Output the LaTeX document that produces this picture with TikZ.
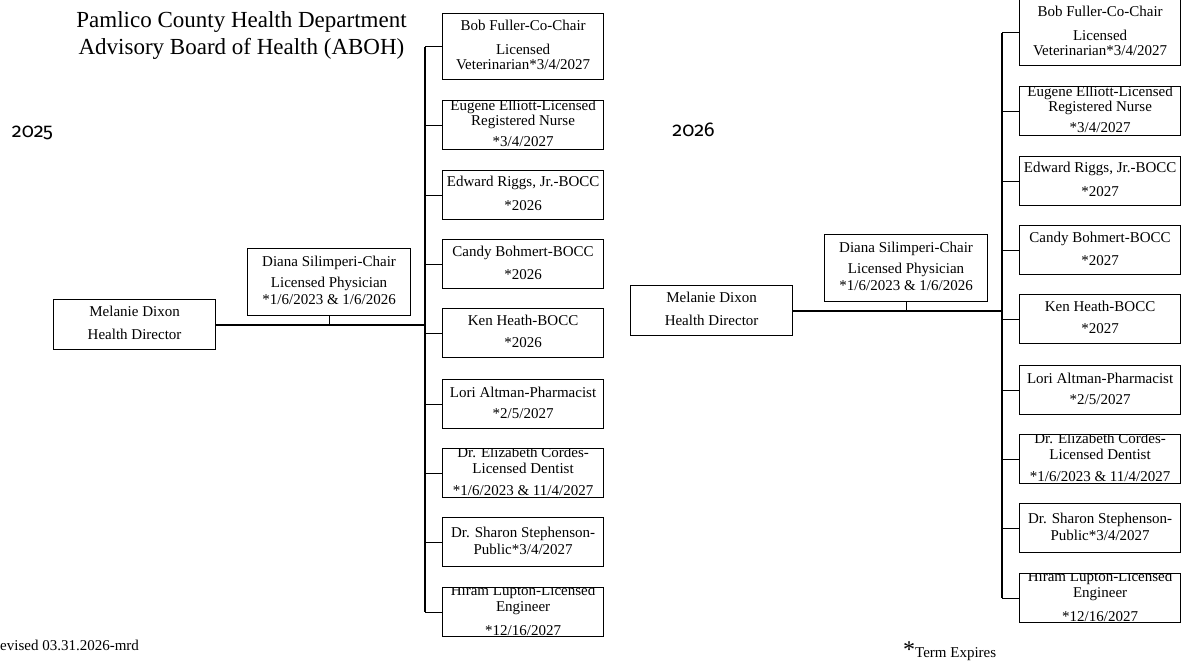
\documentclass[tikz,border=0pt]{standalone}
\usepackage{fontspec}
\setmainfont{Liberation Serif}
\newfontfamily\yearfont[Numbers=OldStyle]{Fira Sans}
\tikzset{
  bx/.style={draw, line width=1.2pt, minimum width=161pt, inner sep=0pt, anchor=north west},
  tx/.style={font=\fontsize{15}{16}\selectfont, align=center, inner sep=0pt,
    execute at begin node=\rule{0pt}{12pt}, execute at end node=\rule[-3pt]{0pt}{3pt}},
  branch/.style={line width=1pt},
  trunk/.style={line width=1.5pt},
  mainline/.style={line width=2pt},
  plain/.style={inner sep=0pt, font=\fontsize{15}{16}\selectfont}
}
% #1 name, #2 x, #3 y, #4 options, #5 text
\newcommand\memberbox[5]{%
  \node[bx, #4] (#1) at (#2,#3) {};
  \begin{scope}
    \clip (#1.south west) rectangle (#1.north east);
    \node[tx] (#1t) at (#1.center) {#5};
  \end{scope}
}
% #1 prefix, #2 BOCC year
\newcommand\boardchart[2]{%
  \memberbox{#1mel}{53}{299}{minimum height=50pt, minimum width=162pt}{Melanie Dixon\\[7pt]Health Director}
  \memberbox{#1dia}{247}{248}{minimum height=67pt, minimum width=163pt}{Diana Silimperi-Chair\\[5pt]Licensed Physician\\[1pt]*1/6/2023 \& 1/6/2026}
  \memberbox{#1bob}{442}{13}{minimum height=66pt}{Bob Fuller-Co-Chair\\[8pt]Licensed\\[-1pt]Veterinarian*3/4/2027}
  \memberbox{#1eug}{442}{100}{minimum height=49pt}{\raisebox{0pt}{}Eugene Elliott-Licensed\\[-1pt]Registered Nurse\\[5pt]*3/4/2027\rule[-4pt]{0pt}{4pt}}
  \memberbox{#1edw}{442}{170}{minimum height=49pt}{Edward Riggs, Jr.-BOCC\\[8pt]*#2}
  \memberbox{#1can}{442}{239}{minimum height=49pt}{Candy Bohmert-BOCC\\[7pt]*#2}
  \memberbox{#1ken}{442}{308}{minimum height=49pt}{Ken Heath-BOCC\\[6pt]*#2}
  \memberbox{#1lor}{442}{379}{minimum height=49pt}{Lori Altman-Pharmacist\\[5pt]*2/5/2027}
  \memberbox{#1eli}{442}{448}{minimum height=49pt}{Dr. Elizabeth Cordes-\\Licensed Dentist\\[6pt]*1/6/2023 \& 11/4/2027\rule[-4pt]{0pt}{4pt}}
  \memberbox{#1sha}{442}{517}{minimum height=49pt}{Dr. Sharon Stephenson-\\[1pt]Public*3/4/2027}
  \memberbox{#1hir}{442}{587}{minimum height=49pt}{Hiram Lupton-Licensed\\Engineer\\[8pt]*12/16/2027\rule[-4pt]{0pt}{4pt}}
  \coordinate (#1tr) at (425,0);
  \draw[trunk] (#1bob.west -| #1tr) -- (#1hir.west -| #1tr);
  \foreach \n in {bob,eug,edw,can,ken,lor,eli,sha,hir}
    \draw[branch] (#1\n.west -| #1tr) -- (#1\n.west);
  \draw[mainline] (#1mel.east) -- (#1mel.east -| #1tr);
  \draw[branch] (#1dia.south) -- (#1dia.south |- #1mel.east);
}
\begin{document}
\begin{tikzpicture}[x=1pt,y=-1pt]
\useasboundingbox (0,0) rectangle (1187,664);
\node[anchor=north, align=center, inner sep=0pt, font=\fontsize{23}{27.5}\selectfont] (title) at (241.5,9)
  {\rule{0pt}{18pt}Pamlico County Health Department\\Advisory Board of Health (ABOH)};
\node[inner sep=0pt, font=\yearfont\fontsize{20}{20}\selectfont] (y25) at (32.5,133) {2025};
\node[inner sep=0pt, font=\yearfont\fontsize{20}{20}\selectfont] (y26) at (693.5,130) {2026};
\boardchart{L}{2026}
\begin{scope}[shift={(577,-14)}]
\boardchart{R}{2027}
\end{scope}
\node[plain, anchor=base west] (rev) at (-10,650) {Revised 03.31.2026-mrd};
\node[plain, anchor=base west] (term) at (903,657) {\raisebox{0pt}{\fontsize{24}{24}\selectfont *}Term Expires};
\end{tikzpicture}
\end{document}
